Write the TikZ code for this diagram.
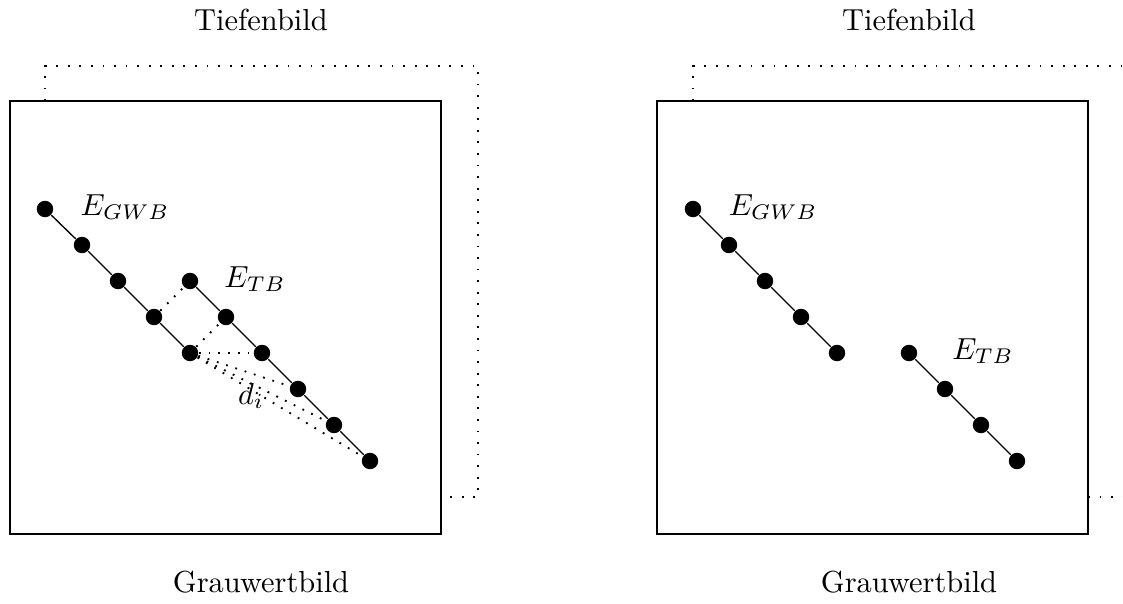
\documentclass[tikz,border=0pt]{standalone}
\usepackage{amsmath}
\usepackage{tikz}
\usetikzlibrary{positioning}
\tikzset{
  pt/.style={circle,fill=black,inner sep=0pt,minimum size=0.19cm},
  seg/.style={line width=0.45pt},
  frame/.style={line width=0.45pt},
  backframe/.style={line width=0.6pt,dash pattern=on 0.6pt off 3.2pt},
  link/.style={line width=0.6pt,dash pattern=on 0.6pt off 2.6pt},
  title/.style={font=\normalsize,inner sep=1pt}
}

\begin{document}
\begin{tikzpicture}[x=0.01155cm,y=-0.01155cm]
    \path[use as bounding box] (0,0) rectangle (1123,604);
    \clip (0,0) rectangle (1123,604);

    % left: overlapping edges
    \draw[backframe] (45,101) |- (478,66) -- (478,497) -- (441,497);
    \draw[frame] (10,101) rectangle (441,534);
    \node[title] (tl) at (261,20) {Tiefenbild};
    \node[title] (gl) at (261,582) {Grauwertbild};

    \node[pt] (g1) at (45,209) {};
    \node[pt] (g2) at (82,245) {};
    \node[pt] (g3) at (118,281) {};
    \node[pt] (g4) at (154,317) {};
    \node[pt] (g5) at (190,353) {};
    \node[pt] (t1) at (190,281) {};
    \node[pt] (t2) at (226,317) {};
    \node[pt] (t3) at (262,353) {};
    \node[pt] (t4) at (298,389) {};
    \node[pt] (t5) at (334,425) {};
    \node[pt] (t6) at (370,461) {};
    \draw[seg] (g1) -- (g2) -- (g3) -- (g4) -- (g5);
    \draw[seg] (t1) -- (t2) -- (t3) -- (t4) -- (t5) -- (t6);
    \draw[link] (g4) -- (t1);
    \draw[link] (g5) -- (t2);
    \draw[link] (g5) -- (t3);
    \draw[link] (g5) -- (t4);
    \draw[link] (g5) -- (t5);
    \draw[link] (g5) -- (t6);

    \node (egl) at (125,207) {$E_{GWB}$};
    \node (etl) at (255,279) {$E_{TB}$};
    \node[inner sep=0.5pt] (di) at (251,396) {$d_i$};

    % right: separated edges
    \draw[backframe] (693,101) |- (1140,66);
    \draw[backframe] (1088,497) -- (1140,497);
    \draw[frame] (657,101) rectangle (1088,534);
    \node[title] (tr) at (909,20) {Tiefenbild};
    \node[title] (gr) at (909,582) {Grauwertbild};

    \node[pt] (h1) at (693,209) {};
    \node[pt] (h2) at (729,245) {};
    \node[pt] (h3) at (765,281) {};
    \node[pt] (h4) at (801,317) {};
    \node[pt] (h5) at (837,353) {};
    \node[pt] (s1) at (909,353) {};
    \node[pt] (s2) at (945,389) {};
    \node[pt] (s3) at (981,425) {};
    \node[pt] (s4) at (1017,461) {};
    \draw[seg] (h1) -- (h2) -- (h3) -- (h4) -- (h5);
    \draw[seg] (s1) -- (s2) -- (s3) -- (s4);

    \node (egr) at (773,207) {$E_{GWB}$};
    \node (etr) at (983,351) {$E_{TB}$};
  \end{tikzpicture}
\end{document}
